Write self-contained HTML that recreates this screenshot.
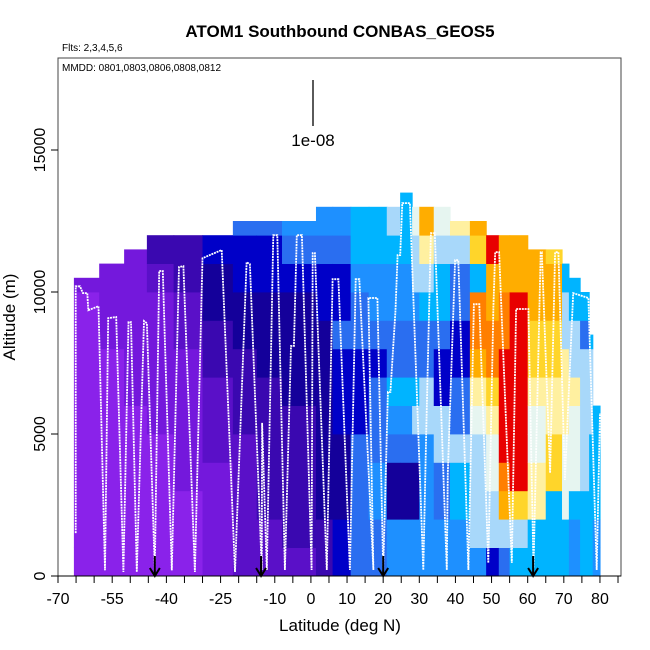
<!DOCTYPE html>
<html><head><meta charset="utf-8"><style>
body{margin:0;background:#fff;}
svg{display:block;font-family:"Liberation Sans",Arial,sans-serif;}
</style></head><body>
<svg id="chart" width="650" height="650" viewBox="0 0 650 650">
<text x="340" y="37" text-anchor="middle" font-size="17" font-weight="bold">ATOM1 Southbound CONBAS_GEOS5</text>
<text x="62" y="51" font-size="10">Flts: 2,3,4,5,6</text>
<g id="cells"></g>
<g id="track"></g>
<g id="arrows"></g>
<rect x="58" y="58" width="563" height="518" fill="none" stroke="#444" stroke-width="1"/>
<text x="62" y="71" font-size="10">MMDD: 0801,0803,0806,0808,0812</text>
<line x1="313" y1="80" x2="313" y2="126" stroke="#000" stroke-width="1.3"/>
<text x="313" y="146" text-anchor="middle" font-size="17">1e-08</text>
<g id="xaxis"></g>
<g id="yaxis"></g>
<text x="340" y="631" text-anchor="middle" font-size="17">Latitude (deg N)</text>
<text transform="translate(15,317) rotate(-90)" text-anchor="middle" font-size="17">Altitude (m)</text>
</svg>
<script>
// ---- data ----
var colLeft = [-65.6,-58.6,-51.7,-45.4,-38,-30,-21.6,-15,-8,1.4,6,11,16,21,24.7,28,30,34,38.5,44,48.5,52,55,60,65,69.5,71.4,74.5,77,78];
var colRight = [-58.6,-51.7,-45.4,-38,-30,-21.6,-15,-8,1.4,6,11,16,21,24.7,28,30,34,38.5,44,48.5,52,55,60,65,69.5,71.4,74.5,77,78,80];
var colTop = [10500,11000,11500,12000,12000,12000,12500,12500,12500,13000,13000,13000,13000,13000,13500,13000,13000,13000,12500,12500,12000,12000,12000,11500,11500,11000,10500,10000,8500,6000];
var colValues = ["aaaaaaaaaab","aaaaaaaabbb","aaaaaabbbbbb","aaaaabbbbbcd","aaabbbbbccdd","bbbbcccddeef","cccccdddeeffg","ccdddddeeeffg","cdddddeeeefgh","ddeeeeeeeffgh","ffeeefffgffgh","gggggfffgghii","gghhgggfghhii","hheeghigghhij","hheeghigghhiii","hheegjigghjjk","hhhhhjjggijln","hhggjjffgiijk","hhiijggffggjl","hjjjjklnooimn","fjjkklmoonnp","gjnoppppoonno","ijmpppppppnno","iillkklmmnnn","iiimmllmmnnm","iikkkllljji","hhikkkljjii","iiijjjjjgi","iiiiijjji","hhiiii"];
var palette = {a:"#8a22ea",b:"#7418dc",c:"#5a10c8",d:"#3a08b0",e:"#14009a",f:"#0000c8",g:"#2a6ef0",h:"#1e90ff",i:"#00b4ff",j:"#a8d8fa",k:"#e6f5f0",l:"#fff0a0",m:"#ffd52a",n:"#ffad00",o:"#ff7f00",p:"#e80000"};
var trackLat = [-65.1,-65.1,-63.9,-63.1,-61.9,-61.6,-58.8,-57.0,-56.1,-53.9,-51.9,-50.5,-49.8,-48.2,-46.2,-45.4,-43.2,-42.0,-41.0,-38.5,-36.5,-35.3,-32.1,-30.0,-24.7,-21.0,-17.8,-16.9,-13.6,-13.5,-12.2,-10.4,-9.3,-7.2,-5.5,-4.7,-3.9,-2.5,0.2,0.5,1.1,4.4,6.0,7.6,10.8,12.4,13.4,17.3,15.9,18.4,20.0,20.5,21.3,22.0,23.4,24.0,24.7,25.3,27.4,31.1,31.9,33.2,34.3,37.6,37.9,39.9,40.8,43.6,45.1,46.6,49.1,50.5,51.0,52.1,55.6,56.8,60.2,61.6,63.6,63.9,66.2,67.6,68.5,70.3,72.6,76.8,79.1,80.0];
var trackAlt = [1510,10200,10200,9960,9960,9360,9500,200,9080,9120,140,8940,8940,140,8980,8900,200,10740,10740,200,10880,10910,140,11190,11480,140,11050,10980,210,5390,210,12000,12000,210,8100,8100,12000,12000,210,11370,11370,210,10450,10450,210,10450,10450,210,9790,9790,210,2570,6480,6480,9360,11300,11300,13130,13130,210,5030,12070,12070,210,3630,11120,11120,210,9570,9570,460,9470,11400,11400,460,9400,9400,280,11400,11400,3630,11400,11400,3380,9960,9790,210,5740];
var arrowLat = [-43.2,-13.8,20.0,61.5];
var xTickLabels = [-70,-55,-40,-25,-10,0,10,20,30,40,50,60,70,80];
var yTickLabels = [0,5000,10000,15000];
// ---- scales ----
function X(lat){return 58+(lat+70)*3.613;}
function Y(alt){return 576-alt*0.0284;}
var NS="http://www.w3.org/2000/svg";
function mk(tag,attrs,parent){var e=document.createElementNS(NS,tag);for(var k in attrs)e.setAttribute(k,attrs[k]);parent.appendChild(e);return e;}
var cells=document.getElementById('cells');
for(var c=0;c<colValues.length;c++){
  var s=colValues[c];
  for(var r=0;r<s.length;r++){
    var lo=r*1000, hi=Math.min((r+1)*1000,colTop[c]);
    if(hi<=lo)continue;
    var x0=X(colLeft[c]),x1=X(colRight[c]);
    var rc=mk('rect',{x:x0.toFixed(2),y:Y(hi).toFixed(2),width:(x1-x0+0.6).toFixed(2),height:(Y(lo)-Y(hi)+0.4).toFixed(2),fill:palette[s[r]]},cells);
    
    
  }
}
var pts=[];for(var i=0;i<trackLat.length;i++)pts.push(X(trackLat[i]).toFixed(1)+','+Y(trackAlt[i]).toFixed(1));
var pl=mk('polyline',{points:pts.join(' '),fill:'none',stroke:'#fff','stroke-width':'1.8','stroke-dasharray':'2,0.8'},document.getElementById('track'));


var ag=document.getElementById('arrows');
arrowLat.forEach(function(l){
  var x=X(l);
  var p=mk('path',{d:'M'+x+',556 L'+x+',576 M'+(x-5)+',568 L'+x+',576 L'+(x+5)+',568',stroke:'#000','stroke-width':'2',fill:'none'},ag);
  
  
});
var xa=document.getElementById('xaxis');
for(var t=-70;t<=85;t+=5){
  var tk=mk('line',{x1:X(t),y1:576,x2:X(t),y2:583,stroke:'#000','stroke-width':'1'},xa);
  
  
}
mk('line',{x1:58,y1:576,x2:621,y2:576,stroke:'#000','stroke-width':'1'},xa);
xTickLabels.forEach(function(v){
  var tx=mk('text',{x:X(v),y:604,'text-anchor':'middle','font-size':'16'},xa);
  tx.textContent=v;
  
  
});
var ya=document.getElementById('yaxis');
yTickLabels.forEach(function(v){
  var y=Y(v);
  var tk=mk('line',{x1:51,y1:y,x2:58,y2:y,stroke:'#000','stroke-width':'1'},ya);
  
  
  var tx=mk('text',{transform:'translate(45,'+y+') rotate(-90)','text-anchor':'middle','font-size':'16'},ya);
  tx.textContent=v;
  
  
});
</script>
</body></html>
